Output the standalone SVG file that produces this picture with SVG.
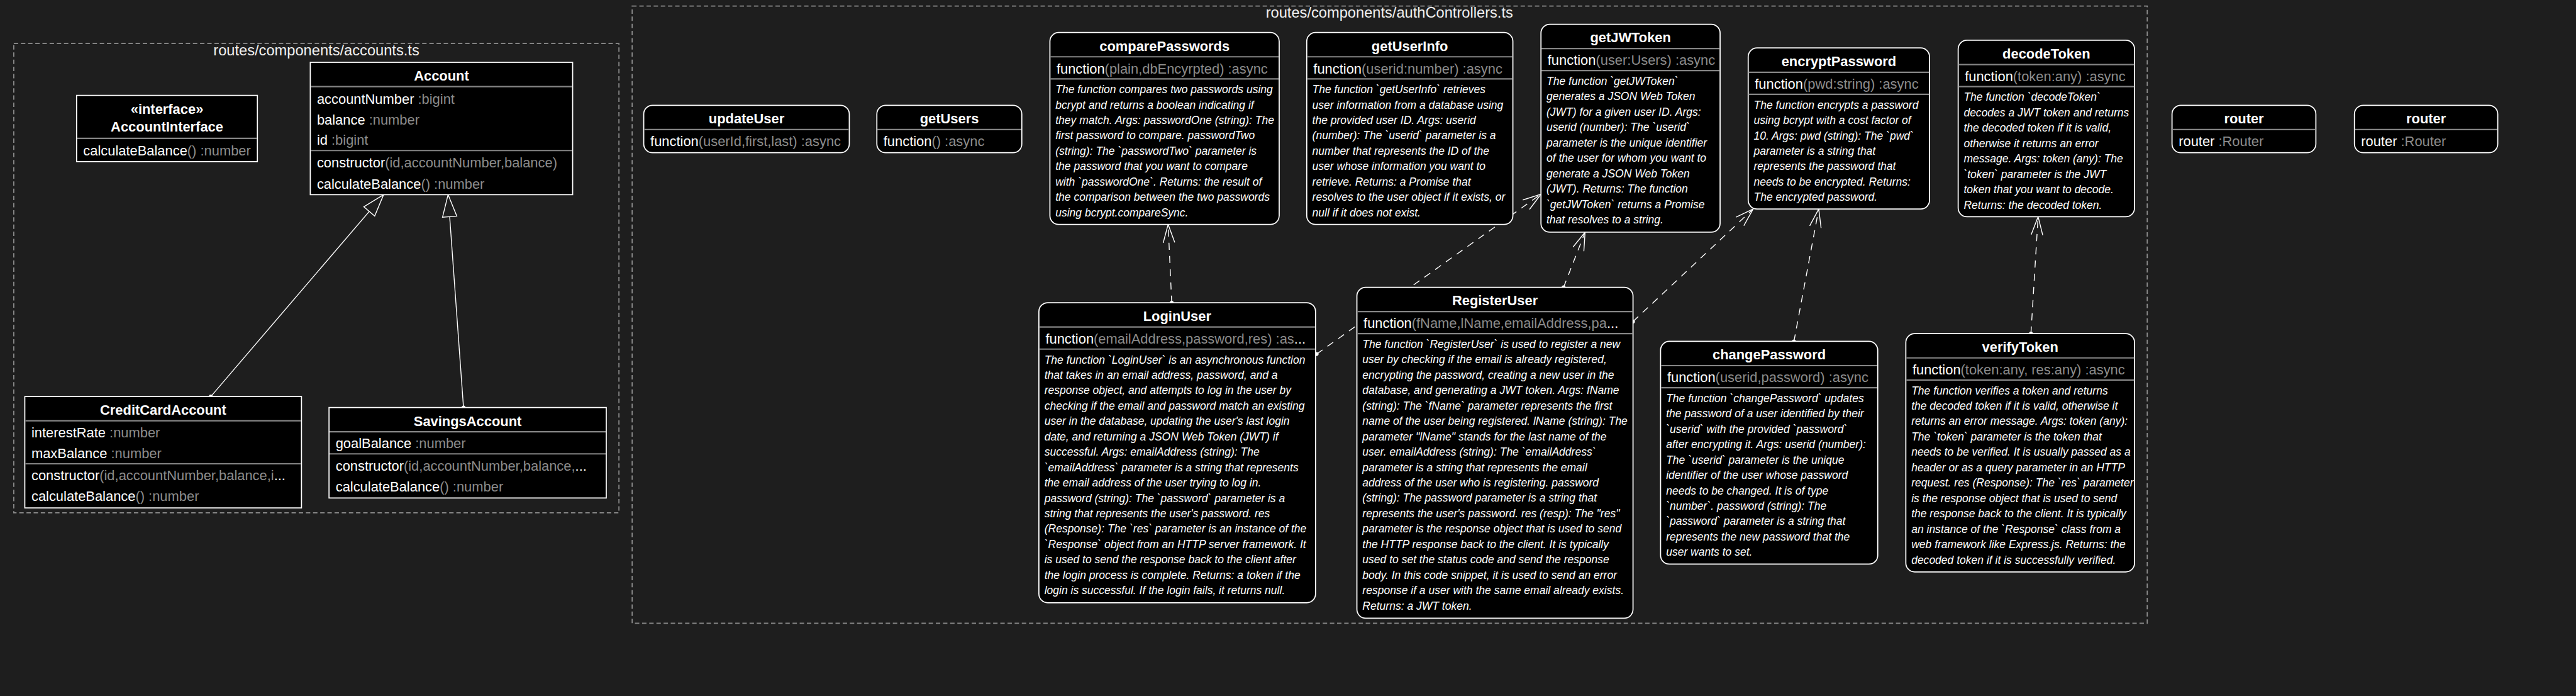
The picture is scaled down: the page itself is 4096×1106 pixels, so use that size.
<svg xmlns="http://www.w3.org/2000/svg" width="4096" height="1106" viewBox="0 0 4096 1106">
<defs>
<style>
text{font-family:'Liberation Sans',Arial,sans-serif;}
.pkg{fill:none;stroke:#8c8c8c;stroke-width:2;stroke-dasharray:8 5;}
.pt{font-size:27px;fill:#f0f0f0;text-anchor:middle;}
.box{fill:#000;stroke:#fff;stroke-width:2;}
.sep{stroke:#858585;stroke-width:2.5;}
.t{font-size:25px;font-weight:bold;fill:#fff;text-anchor:middle;}
.m{font-size:25px;fill:#fff;}
.g{fill:#8c8c8c;}
.d{font-size:20px;font-style:italic;fill:#fff;}
.dash{fill:none;stroke:#fff;stroke-width:1.6;stroke-dasharray:13 11;marker-start:url(#dot);marker-end:url(#arr);}
.inh{fill:none;stroke:#fff;stroke-width:1.6;marker-start:url(#dot);marker-end:url(#tri);}
</style>
<marker id="arr" markerUnits="userSpaceOnUse" viewBox="-38 -14 42 28" refX="0" refY="0" markerWidth="42" markerHeight="28" orient="auto" overflow="visible"><path d="M-33,-10.5 L0,0 L-33,10.5" fill="none" stroke="#fff" stroke-width="1.6"/></marker>
<marker id="dot" markerUnits="userSpaceOnUse" viewBox="-5 -5 10 10" refX="0" refY="0" markerWidth="10" markerHeight="10" overflow="visible"><circle r="3.5" fill="#fff"/></marker>
<marker id="tri" markerUnits="userSpaceOnUse" viewBox="-45 -16 48 32" refX="0" refY="0" markerWidth="48" markerHeight="32" orient="auto" overflow="visible"><path d="M0,0 L-40,-13 L-40,13 Z" fill="#1e1e1e" stroke="#fff" stroke-width="1.6"/></marker>
</defs>
<rect width="4096" height="1106" fill="#1e1e1e"/>
<g transform="scale(0.87634)">

<g id="pkg-accounts">
<rect class="pkg" x="25" y="79" width="1098" height="851"/>
<text class="pt" x="574" y="100">routes/components/accounts.ts</text>
</g>
<g id="pkg-authControllers">
<rect class="pkg" x="1147" y="11" width="2749" height="1119"/>
<text class="pt" x="2521" y="32">routes/components/authControllers.ts</text>
</g>

<g id="connectors">
<path class="inh" d="M382.5,719 L696,353"/>
<path class="inh" d="M841,739 L813,353"/>
<path class="dash" d="M2126,549 L2119.5,407"/>
<path class="dash" d="M2389,642 L2796,352"/>
<path class="dash" d="M2837,521 L2876,421"/>
<path class="dash" d="M2963,583 L3181,379"/>
<path class="dash" d="M3255,619 L3300,379"/>
<path class="dash" d="M3685,605 L3698,393"/>
</g>

<g id="AccountInterface">
<rect class="box" x="139" y="173" width="328" height="120"/>
<text class="t" x="303" y="206">«interface»</text>
<text class="t" x="303" y="239">AccountInterface</text>
<line class="sep" x1="140" y1="251" x2="466" y2="251"/>
<text class="m" x="151" y="282">calculateBalance<tspan class="g">() :number</tspan></text>
</g>

<g id="Account">
<rect class="box" x="563" y="113" width="476" height="240"/>
<text class="t" x="801" y="146">Account</text>
<line class="sep" x1="564" y1="157" x2="1038" y2="157"/>
<text class="m" x="575" y="188">accountNumber<tspan class="g"> :bigint</tspan></text>
<text class="m" x="575" y="226">balance<tspan class="g"> :number</tspan></text>
<text class="m" x="575" y="263">id<tspan class="g"> :bigint</tspan></text>
<line class="sep" x1="564" y1="273" x2="1038" y2="273"/>
<text class="m" x="575" y="304">constructor<tspan class="g">(id,accountNumber,balance)</tspan></text>
<text class="m" x="575" y="342">calculateBalance<tspan class="g">() :number</tspan></text>
</g>

<g id="CreditCardAccount">
<rect class="box" x="45" y="719" width="502" height="202"/>
<text class="t" x="296" y="752">CreditCardAccount</text>
<line class="sep" x1="46" y1="763" x2="546" y2="763"/>
<text class="m" x="57" y="793">interestRate<tspan class="g"> :number</tspan></text>
<text class="m" x="57" y="831">maxBalance<tspan class="g"> :number</tspan></text>
<line class="sep" x1="46" y1="841" x2="546" y2="841"/>
<text class="m" x="57" y="871">constructor<tspan class="g">(id,accountNumber,balance,i</tspan>...</text>
<text class="m" x="57" y="908">calculateBalance<tspan class="g">() :number</tspan></text>
</g>

<g id="SavingsAccount">
<rect class="box" x="597" y="739" width="503" height="164"/>
<text class="t" x="848.5" y="772">SavingsAccount</text>
<line class="sep" x1="598" y1="783" x2="1099" y2="783"/>
<text class="m" x="609" y="813">goalBalance<tspan class="g"> :number</tspan></text>
<line class="sep" x1="598" y1="823" x2="1099" y2="823"/>
<text class="m" x="609" y="853">constructor<tspan class="g">(id,accountNumber,balance,</tspan>...</text>
<text class="m" x="609" y="891">calculateBalance<tspan class="g">() :number</tspan></text>
</g>

<g id="updateUser">
<rect class="box" x="1168" y="191" width="373" height="86" rx="16"/>
<text class="t" x="1354.5" y="224">updateUser</text>
<line class="sep" x1="1169" y1="235" x2="1540" y2="235"/>
<text class="m" x="1180" y="265">function<tspan class="g">(userId,first,last) :async</tspan></text>
</g>

<g id="getUsers">
<rect class="box" x="1591" y="191" width="263" height="86" rx="16"/>
<text class="t" x="1722.5" y="224">getUsers</text>
<line class="sep" x1="1592" y1="235" x2="1853" y2="235"/>
<text class="m" x="1603" y="265">function<tspan class="g">() :async</tspan></text>
</g>

<g id="comparePasswords">
<rect class="box" x="1905" y="59" width="416" height="348" rx="16"/>
<text class="t" x="2113" y="92">comparePasswords</text>
<line class="sep" x1="1906" y1="103" x2="2320" y2="103"/>
<text class="m" x="1917" y="133">function<tspan class="g">(plain,dbEncyrpted) :async</tspan></text>
<line class="sep" x1="1906" y1="143" x2="2320" y2="143"/>
<text class="d"><tspan x="1915" y="169">The function compares two passwords using</tspan><tspan x="1915" dy="27.9">bcrypt and returns a boolean indicating if</tspan><tspan x="1915" dy="27.9">they match. Args: passwordOne (string): The</tspan><tspan x="1915" dy="27.9">first password to compare. passwordTwo</tspan><tspan x="1915" dy="27.9">(string): The `passwordTwo` parameter is</tspan><tspan x="1915" dy="27.9">the password that you want to compare</tspan><tspan x="1915" dy="27.9">with `passwordOne`. Returns: the result of</tspan><tspan x="1915" dy="27.9">the comparison between the two passwords</tspan><tspan x="1915" dy="27.9">using bcrypt.compareSync.</tspan></text>
</g>

<g id="getUserInfo">
<rect class="box" x="2371" y="59" width="374" height="348" rx="16"/>
<text class="t" x="2558" y="92">getUserInfo</text>
<line class="sep" x1="2372" y1="103" x2="2744" y2="103"/>
<text class="m" x="2383" y="133">function<tspan class="g">(userid:number) :async</tspan></text>
<line class="sep" x1="2372" y1="143" x2="2744" y2="143"/>
<text class="d"><tspan x="2381" y="169">The function `getUserInfo` retrieves</tspan><tspan x="2381" dy="27.9">user information from a database using</tspan><tspan x="2381" dy="27.9">the provided user ID. Args: userid</tspan><tspan x="2381" dy="27.9">(number): The `userid` parameter is a</tspan><tspan x="2381" dy="27.9">number that represents the ID of the</tspan><tspan x="2381" dy="27.9">user whose information you want to</tspan><tspan x="2381" dy="27.9">retrieve. Returns: a Promise that</tspan><tspan x="2381" dy="27.9">resolves to the user object if it exists, or</tspan><tspan x="2381" dy="27.9">null if it does not exist.</tspan></text>
</g>

<g id="getJWToken">
<rect class="box" x="2796" y="44" width="325" height="377" rx="16"/>
<text class="t" x="2958.5" y="77">getJWToken</text>
<line class="sep" x1="2797" y1="88" x2="3120" y2="88"/>
<text class="m" x="2808" y="118">function<tspan class="g">(user:Users) :async</tspan></text>
<line class="sep" x1="2797" y1="128" x2="3120" y2="128"/>
<text class="d"><tspan x="2806" y="154">The function `getJWToken`</tspan><tspan x="2806" dy="27.9">generates a JSON Web Token</tspan><tspan x="2806" dy="27.9">(JWT) for a given user ID. Args:</tspan><tspan x="2806" dy="27.9">userid (number): The `userid`</tspan><tspan x="2806" dy="27.9">parameter is the unique identifier</tspan><tspan x="2806" dy="27.9">of the user for whom you want to</tspan><tspan x="2806" dy="27.9">generate a JSON Web Token</tspan><tspan x="2806" dy="27.9">(JWT). Returns: The function</tspan><tspan x="2806" dy="27.9">`getJWToken` returns a Promise</tspan><tspan x="2806" dy="27.9">that resolves to a string.</tspan></text>
</g>

<g id="encryptPassword">
<rect class="box" x="3172" y="87" width="329" height="292" rx="16"/>
<text class="t" x="3336.5" y="120">encryptPassword</text>
<line class="sep" x1="3173" y1="131" x2="3500" y2="131"/>
<text class="m" x="3184" y="161">function<tspan class="g">(pwd:string) :async</tspan></text>
<line class="sep" x1="3173" y1="171" x2="3500" y2="171"/>
<text class="d"><tspan x="3182" y="197">The function encrypts a password</tspan><tspan x="3182" dy="27.9">using bcrypt with a cost factor of</tspan><tspan x="3182" dy="27.9">10. Args: pwd (string): The `pwd`</tspan><tspan x="3182" dy="27.9">parameter is a string that</tspan><tspan x="3182" dy="27.9">represents the password that</tspan><tspan x="3182" dy="27.9">needs to be encrypted. Returns:</tspan><tspan x="3182" dy="27.9">The encrypted password.</tspan></text>
</g>

<g id="decodeToken">
<rect class="box" x="3553" y="73" width="320" height="320" rx="16"/>
<text class="t" x="3713" y="106">decodeToken</text>
<line class="sep" x1="3554" y1="117" x2="3872" y2="117"/>
<text class="m" x="3565" y="147">function<tspan class="g">(token:any) :async</tspan></text>
<line class="sep" x1="3554" y1="157" x2="3872" y2="157"/>
<text class="d"><tspan x="3563" y="183">The function `decodeToken`</tspan><tspan x="3563" dy="27.9">decodes a JWT token and returns</tspan><tspan x="3563" dy="27.9">the decoded token if it is valid,</tspan><tspan x="3563" dy="27.9">otherwise it returns an error</tspan><tspan x="3563" dy="27.9">message. Args: token (any): The</tspan><tspan x="3563" dy="27.9">`token` parameter is the JWT</tspan><tspan x="3563" dy="27.9">token that you want to decode.</tspan><tspan x="3563" dy="27.9">Returns: the decoded token.</tspan></text>
</g>

<g id="router1">
<rect class="box" x="3941" y="191" width="261" height="86" rx="16"/>
<text class="t" x="4071.5" y="224">router</text>
<line class="sep" x1="3942" y1="235" x2="4201" y2="235"/>
<text class="m" x="3953" y="265">router<tspan class="g"> :Router</tspan></text>
</g>

<g id="router2">
<rect class="box" x="4272" y="191" width="260" height="86" rx="16"/>
<text class="t" x="4402" y="224">router</text>
<line class="sep" x1="4273" y1="235" x2="4531" y2="235"/>
<text class="m" x="4284" y="265">router<tspan class="g"> :Router</tspan></text>
</g>

<g id="LoginUser">
<rect class="box" x="1885" y="549" width="502" height="544" rx="16"/>
<text class="t" x="2136" y="582">LoginUser</text>
<line class="sep" x1="1886" y1="593" x2="2386" y2="593"/>
<text class="m" x="1897" y="623">function<tspan class="g">(emailAddress,password,res) :as</tspan>...</text>
<line class="sep" x1="1886" y1="633" x2="2386" y2="633"/>
<text class="d"><tspan x="1895" y="659">The function `LoginUser` is an asynchronous function</tspan><tspan x="1895" dy="27.9">that takes in an email address, password, and a</tspan><tspan x="1895" dy="27.9">response object, and attempts to log in the user by</tspan><tspan x="1895" dy="27.9">checking if the email and password match an existing</tspan><tspan x="1895" dy="27.9">user in the database, updating the user's last login</tspan><tspan x="1895" dy="27.9">date, and returning a JSON Web Token (JWT) if</tspan><tspan x="1895" dy="27.9">successful. Args: emailAddress (string): The</tspan><tspan x="1895" dy="27.9">`emailAddress` parameter is a string that represents</tspan><tspan x="1895" dy="27.9">the email address of the user trying to log in.</tspan><tspan x="1895" dy="27.9">password (string): The `password` parameter is a</tspan><tspan x="1895" dy="27.9">string that represents the user's password. res</tspan><tspan x="1895" dy="27.9">(Response): The `res` parameter is an instance of the</tspan><tspan x="1895" dy="27.9">`Response` object from an HTTP server framework. It</tspan><tspan x="1895" dy="27.9">is used to send the response back to the client after</tspan><tspan x="1895" dy="27.9">the login process is complete. Returns: a token if the</tspan><tspan x="1895" dy="27.9">login is successful. If the login fails, it returns null.</tspan></text>
</g>

<g id="RegisterUser">
<rect class="box" x="2462" y="521" width="501" height="600" rx="16"/>
<text class="t" x="2712.5" y="554">RegisterUser</text>
<line class="sep" x1="2463" y1="565" x2="2962" y2="565"/>
<text class="m" x="2474" y="595">function<tspan class="g">(fName,lName,emailAddress,pa</tspan>...</text>
<line class="sep" x1="2463" y1="605" x2="2962" y2="605"/>
<text class="d"><tspan x="2472" y="631">The function `RegisterUser` is used to register a new</tspan><tspan x="2472" dy="27.9">user by checking if the email is already registered,</tspan><tspan x="2472" dy="27.9">encrypting the password, creating a new user in the</tspan><tspan x="2472" dy="27.9">database, and generating a JWT token. Args: fName</tspan><tspan x="2472" dy="27.9">(string): The `fName` parameter represents the first</tspan><tspan x="2472" dy="27.9">name of the user being registered. lName (string): The</tspan><tspan x="2472" dy="27.9">parameter "lName" stands for the last name of the</tspan><tspan x="2472" dy="27.9">user. emailAddress (string): The `emailAddress`</tspan><tspan x="2472" dy="27.9">parameter is a string that represents the email</tspan><tspan x="2472" dy="27.9">address of the user who is registering. password</tspan><tspan x="2472" dy="27.9">(string): The password parameter is a string that</tspan><tspan x="2472" dy="27.9">represents the user's password. res (resp): The "res"</tspan><tspan x="2472" dy="27.9">parameter is the response object that is used to send</tspan><tspan x="2472" dy="27.9">the HTTP response back to the client. It is typically</tspan><tspan x="2472" dy="27.9">used to set the status code and send the response</tspan><tspan x="2472" dy="27.9">body. In this code snippet, it is used to send an error</tspan><tspan x="2472" dy="27.9">response if a user with the same email already exists.</tspan><tspan x="2472" dy="27.9">Returns: a JWT token.</tspan></text>
</g>

<g id="changePassword">
<rect class="box" x="3013" y="619" width="394" height="404" rx="16"/>
<text class="t" x="3210" y="652">changePassword</text>
<line class="sep" x1="3014" y1="663" x2="3406" y2="663"/>
<text class="m" x="3025" y="693">function<tspan class="g">(userid,password) :async</tspan></text>
<line class="sep" x1="3014" y1="703" x2="3406" y2="703"/>
<text class="d"><tspan x="3023" y="729">The function `changePassword` updates</tspan><tspan x="3023" dy="27.9">the password of a user identified by their</tspan><tspan x="3023" dy="27.9">`userid` with the provided `password`</tspan><tspan x="3023" dy="27.9">after encrypting it. Args: userid (number):</tspan><tspan x="3023" dy="27.9">The `userid` parameter is the unique</tspan><tspan x="3023" dy="27.9">identifier of the user whose password</tspan><tspan x="3023" dy="27.9">needs to be changed. It is of type</tspan><tspan x="3023" dy="27.9">`number`. password (string): The</tspan><tspan x="3023" dy="27.9">`password` parameter is a string that</tspan><tspan x="3023" dy="27.9">represents the new password that the</tspan><tspan x="3023" dy="27.9">user wants to set.</tspan></text>
</g>

<g id="verifyToken">
<rect class="box" x="3458" y="605" width="415" height="432" rx="16"/>
<text class="t" x="3665.5" y="638">verifyToken</text>
<line class="sep" x1="3459" y1="649" x2="3872" y2="649"/>
<text class="m" x="3470" y="679">function<tspan class="g">(token:any, res:any) :async</tspan></text>
<line class="sep" x1="3459" y1="689" x2="3872" y2="689"/>
<text class="d"><tspan x="3468" y="715">The function verifies a token and returns</tspan><tspan x="3468" dy="27.9">the decoded token if it is valid, otherwise it</tspan><tspan x="3468" dy="27.9">returns an error message. Args: token (any):</tspan><tspan x="3468" dy="27.9">The `token` parameter is the token that</tspan><tspan x="3468" dy="27.9">needs to be verified. It is usually passed as a</tspan><tspan x="3468" dy="27.9">header or as a query parameter in an HTTP</tspan><tspan x="3468" dy="27.9">request. res (Response): The `res` parameter</tspan><tspan x="3468" dy="27.9">is the response object that is used to send</tspan><tspan x="3468" dy="27.9">the response back to the client. It is typically</tspan><tspan x="3468" dy="27.9">an instance of the `Response` class from a</tspan><tspan x="3468" dy="27.9">web framework like Express.js. Returns: the</tspan><tspan x="3468" dy="27.9">decoded token if it is successfully verified.</tspan></text>
</g>

</g>
</svg>
